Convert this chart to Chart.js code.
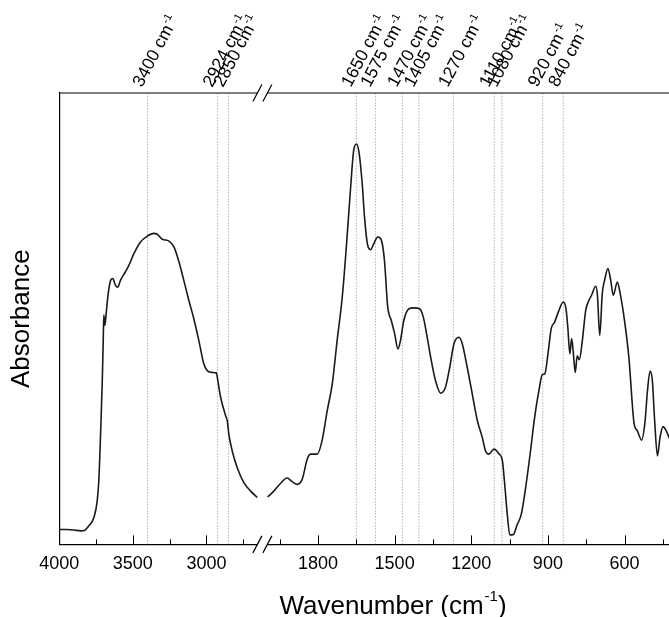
<!DOCTYPE html>
<html>
<head>
<meta charset="utf-8">
<title>FTIR spectrum</title>
<script src="https://cdn.jsdelivr.net/npm/chart.js@4.4.1/dist/chart.umd.min.js"></script>
<style>
  html, body { margin: 0; padding: 0; background: #fff; overflow: hidden; }
  canvas { display: block; }
</style>
</head>
<body>
<!-- plot runs off the right edge of the page, so the canvas is a little wider than the window -->
<canvas id="spectrum" width="675" height="617"></canvas>
<script>
// High wavenumber region (left of the axis break)
const highWavenumbers = [4000, 3950, 3900, 3855, 3828, 3799, 3765, 3742, 3731, 3719,
    3708, 3701, 3697, 3690, 3681, 3667, 3651, 3636, 3618, 3602,
    3584, 3550, 3527, 3493, 3448, 3402, 3357, 3334, 3300, 3255,
    3221, 3187, 3154, 3120, 3086, 3052, 3018, 2995, 2961, 2933,
    2923, 2904, 2870, 2859, 2848, 2825, 2791, 2746, 2700, 2655];
const highAbsorbance = [0.033, 0.033, 0.032, 0.030, 0.031, 0.041, 0.059, 0.096, 0.141, 0.245,
    0.356, 0.452, 0.508, 0.485, 0.512, 0.556, 0.585, 0.589, 0.574, 0.570,
    0.585, 0.604, 0.618, 0.644, 0.670, 0.683, 0.689, 0.687, 0.676, 0.672,
    0.659, 0.626, 0.585, 0.541, 0.500, 0.452, 0.400, 0.385, 0.381, 0.380,
    0.363, 0.326, 0.285, 0.274, 0.244, 0.207, 0.170, 0.137, 0.118, 0.104];

// Fingerprint region (right of the break)
const lowWavenumbers = [1997, 1973, 1947, 1921, 1901, 1881, 1862, 1842, 1829, 1803,
    1784, 1764, 1744, 1725, 1705, 1688, 1673, 1660, 1649, 1639,
    1627, 1618, 1607, 1594, 1581, 1566, 1552, 1540, 1527, 1513,
    1500, 1487, 1477, 1464, 1444, 1425, 1402, 1388, 1375, 1359,
    1340, 1320, 1301, 1284, 1268, 1248, 1235, 1216, 1196, 1176,
    1157, 1144, 1131, 1111, 1092, 1078, 1069, 1059, 1049, 1035,
    1020, 1004, 987, 968, 952, 935, 922, 912, 898, 887,
    874, 857, 840, 829, 822, 814, 807, 800, 793, 785,
    777, 765, 752, 739, 729, 713, 706, 697, 687, 678,
    665, 654, 644, 628, 618, 602, 583, 563, 550, 533,
    520, 510, 500, 491, 482, 471, 461, 449, 438, 423];
const lowAbsorbance = [0.105, 0.118, 0.135, 0.147, 0.139, 0.133, 0.144, 0.189, 0.200, 0.200,
    0.230, 0.296, 0.356, 0.452, 0.548, 0.667, 0.785, 0.874, 0.887, 0.867,
    0.800, 0.726, 0.667, 0.653, 0.667, 0.681, 0.674, 0.630, 0.526, 0.496,
    0.467, 0.433, 0.452, 0.496, 0.522, 0.524, 0.522, 0.504, 0.467, 0.415,
    0.363, 0.335, 0.348, 0.393, 0.444, 0.459, 0.444, 0.393, 0.333, 0.274,
    0.237, 0.207, 0.200, 0.211, 0.201, 0.185, 0.133, 0.067, 0.021, 0.022,
    0.044, 0.067, 0.126, 0.207, 0.281, 0.341, 0.376, 0.378, 0.430, 0.478,
    0.492, 0.518, 0.537, 0.522, 0.481, 0.422, 0.456, 0.422, 0.381, 0.418,
    0.409, 0.452, 0.518, 0.541, 0.552, 0.572, 0.552, 0.463, 0.556, 0.585,
    0.611, 0.585, 0.552, 0.581, 0.559, 0.504, 0.415, 0.270, 0.252, 0.231,
    0.270, 0.341, 0.384, 0.363, 0.274, 0.196, 0.237, 0.261, 0.253, 0.233];

// Assigned bands, marked with dotted lines
const bandPositions = [3400, 2924, 2850, 1650, 1575, 1470, 1405, 1270, 1110, 1080, 920, 840];

// Axis ranges on both sides of the break, and the labelled ticks
const highRange = [2600, 4000];
const lowRange = [423, 2006];
const highTickLabels = [4000, 3500, 3000];
const lowTickLabels = [1800, 1500, 1200, 900, 600];

const FONT = "'Liberation Sans', Arial, Helvetica, sans-serif";
const toPoints = (xs, ys) => xs.map((x, i) => ({ x: x, y: ys[i] }));

// vertical dotted marker for each band, on whichever side of the break it falls
const bandDatasets = bandPositions.map(b => ({
    data: [{ x: b, y: 0 }, { x: b, y: 1 }],
    xAxisID: b >= highRange[0] ? 'xHigh' : 'xLow',
    borderColor: '#8c8c8c',
    borderWidth: 1,
    borderDash: [1, 2],
    pointRadius: 0,
    order: 2
}));

function drawSup(ctx, main, sup, mainSize, supSize, rise) {
    ctx.font = mainSize + 'px ' + FONT;
    ctx.fillText(main, 0, 0);
    const w = ctx.measureText(main).width;
    ctx.font = supSize + 'px ' + FONT;
    ctx.fillText(sup, w + 1, -rise);
    return w + 1 + ctx.measureText(sup).width;
}

// frame, inward tick marks, axis break and the text around the plot
const decorations = {
    id: 'decorations',
    afterDraw(chart) {
        const { ctx, chartArea } = chart;
        const xHigh = chart.scales.xHigh;
        const xLow = chart.scales.xLow;
        ctx.save();
        ctx.strokeStyle = '#000';
        ctx.lineWidth = 1.2;

        // top frame line
        ctx.beginPath();
        ctx.moveTo(chartArea.left, chartArea.top);
        ctx.lineTo(chartArea.right, chartArea.top);
        ctx.stroke();

        // tick marks, long on labelled values, short in between
        const scales = [[xHigh, highTickLabels], [xLow, lowTickLabels]];
        ctx.lineWidth = 1;
        scales.forEach(([scale, labels]) => {
            scale.ticks.forEach(t => {
                const x = Math.round(scale.getPixelForValue(t.value)) + 0.5;
                const len = labels.includes(t.value) ? 9 : 5;
                ctx.beginPath();
                ctx.moveTo(x, chartArea.bottom);
                ctx.lineTo(x, chartArea.bottom - len);
                ctx.stroke();
            });
        });

        // break marks on the bottom axis and top frame
        const bx = xHigh.right - 3;
        [chartArea.bottom, chartArea.top].forEach(y => {
            ctx.fillStyle = '#fff';
            ctx.fillRect(bx - 5, y - 2, 10, 4);
            ctx.lineWidth = 1.2;
            [-5, 5].forEach(d => {
                ctx.beginPath();
                ctx.moveTo(bx + d - 4.5, y + 8.5);
                ctx.lineTo(bx + d + 4.5, y - 8.5);
                ctx.stroke();
            });
        });

        // band labels above the frame
        ctx.fillStyle = '#000';
        ctx.textAlign = 'left';
        ctx.textBaseline = 'alphabetic';
        bandPositions.forEach(b => {
            const scale = b >= highRange[0] ? xHigh : xLow;
            const x = scale.getPixelForValue(b);
            ctx.save();
            ctx.translate(x - 5.5, chartArea.top - 5);
            ctx.rotate(-62 * Math.PI / 180);
            drawSup(ctx, b + ' cm', '-1', 17.5, 11, 7);
            ctx.restore();
        });

        // x axis title
        ctx.save();
        ctx.font = '26px ' + FONT;
        const wMain = ctx.measureText('Wavenumber (cm').width;
        ctx.font = '15px ' + FONT;
        const wSup = ctx.measureText('-1').width;
        ctx.font = '26px ' + FONT;
        const wEnd = ctx.measureText(')').width;
        const total = wMain + 1 + wSup + wEnd;
        ctx.translate(393 - total / 2, 607);
        ctx.textBaseline = 'middle';
        const used = drawSup(ctx, 'Wavenumber (cm', '-1', 26, 15, 10);
        ctx.font = '26px ' + FONT;
        ctx.fillText(')', used, 0);
        ctx.restore();

        ctx.restore();
    }
};

const tickFont = { family: FONT, size: 18 };

new Chart(document.getElementById('spectrum'), {
    type: 'line',
    data: {
        datasets: [{
            data: toPoints(highWavenumbers, highAbsorbance),
            xAxisID: 'xHigh',
            borderColor: '#1a1a1a',
            borderWidth: 1.6,
            pointRadius: 0,
            cubicInterpolationMode: 'monotone',
            order: 1
        }, {
            data: toPoints(lowWavenumbers, lowAbsorbance),
            xAxisID: 'xLow',
            borderColor: '#1a1a1a',
            borderWidth: 1.6,
            pointRadius: 0,
            cubicInterpolationMode: 'monotone',
            order: 1
        }].concat(bandDatasets)
    },
    options: {
        responsive: false,
        animation: false,
        devicePixelRatio: 1,
        parsing: false,
        layout: { padding: { left: 0, right: 0, top: 93, bottom: 33 } },
        plugins: { legend: { display: false }, tooltip: { enabled: false } },
        scales: {
            xHigh: {
                type: 'linear',
                position: 'bottom',
                stack: 'wavenumber',
                stackWeight: 206,
                reverse: true,
                min: highRange[0],
                max: highRange[1],
                grid: { display: false, drawTicks: false },
                border: { display: true, color: '#000', width: 1.2 },
                ticks: {
                    stepSize: 250,
                    includeBounds: false,
                    autoSkip: false,
                    maxRotation: 0,
                    padding: 9,
                    color: '#000',
                    font: tickFont,
                    callback: v => highTickLabels.includes(v) ? String(v) : ''
                }
            },
            xLow: {
                type: 'linear',
                position: 'bottom',
                stack: 'wavenumber',
                stackWeight: 404,
                reverse: true,
                min: lowRange[0],
                max: lowRange[1],
                grid: { display: false, drawTicks: false },
                border: { display: true, color: '#000', width: 1.2 },
                ticks: {
                    stepSize: 150,
                    includeBounds: false,
                    autoSkip: false,
                    maxRotation: 0,
                    padding: 9,
                    color: '#000',
                    font: tickFont,
                    callback: v => lowTickLabels.includes(v) ? String(v) : ''
                }
            },
            y: {
                type: 'linear',
                position: 'left',
                min: 0,
                max: 1,
                grid: { display: false, drawTicks: false },
                border: { display: true, color: '#000', width: 1.2 },
                ticks: { display: false },
                title: {
                    display: true,
                    text: 'Absorbance',
                    color: '#000',
                    font: { family: FONT, size: 26 },
                    padding: { top: 6, bottom: 22 }
                }
            }
        }
    },
    plugins: [decorations]
});
</script>
</body>
</html>
